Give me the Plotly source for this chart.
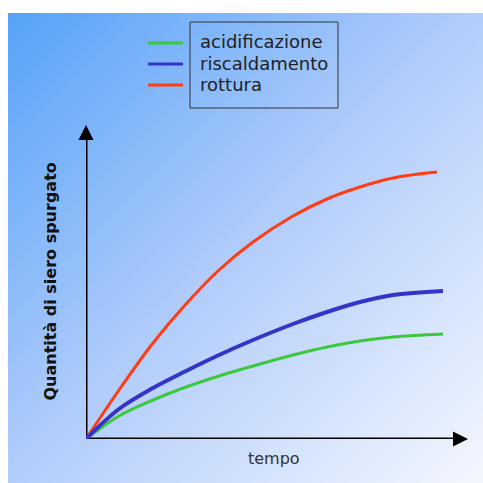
import base64
import plotly.graph_objects as go

# Time axis (arbitrary units) and whey expelled for each treatment
tempo = [0, 33, 67, 100, 133, 167, 207, 241, 274, 307, 351]
tempo_lungo = [0, 33, 67, 100, 133, 167, 207, 241, 274, 307, 357]
rottura = [0, 49, 96, 135, 169, 197, 223, 240, 252, 261, 267]
riscaldamento = [0, 30, 51, 68, 84, 99, 115, 127, 137, 144, 148]
acidificazione = [0, 23, 39, 52, 63, 73, 84, 92, 98, 102, 105]

series_names = ["acidificazione", "riscaldamento", "rottura"]
series_colors = ["#3cc83c", "#3434c8", "#ff3c14"]
series_widths = [3, 4, 3]

X_MAX, Y_MAX = 382, 314
W = H = 483

fig = go.Figure()

# red first, then green, blue on top
fig.add_trace(go.Scatter(x=tempo, y=rottura, mode="lines", name="rottura",
                         line=dict(color=series_colors[2], width=series_widths[2], shape="spline"),
                         showlegend=False))
fig.add_trace(go.Scatter(x=tempo_lungo, y=acidificazione, mode="lines", name="acidificazione",
                         line=dict(color=series_colors[0], width=series_widths[0], shape="spline"),
                         showlegend=False))
fig.add_trace(go.Scatter(x=tempo_lungo, y=riscaldamento, mode="lines", name="riscaldamento",
                         line=dict(color=series_colors[1], width=series_widths[1], shape="spline"),
                         showlegend=False))

# diagonal blue gradient backdrop
svg = (
    '<svg xmlns="http://www.w3.org/2000/svg" width="475" height="470" '
    'preserveAspectRatio="none" viewBox="0 0 475 470">'
    '<defs><linearGradient id="g" x1="0" y1="0" x2="1" y2="1">'
    '<stop offset="0" stop-color="#55a2f8"/>'
    '<stop offset="0.5" stop-color="#b2cdfb"/>'
    '<stop offset="1" stop-color="#f4f7fe"/>'
    '</linearGradient></defs>'
    '<rect width="475" height="470" fill="url(#g)"/></svg>'
)
src = "data:image/svg+xml;base64," + base64.b64encode(svg.encode()).decode()

shapes = [
    # axes (below the curves)
    dict(type="line", xref="x", yref="y", x0=0, y0=0, x1=X_MAX - 8, y1=0,
         line=dict(color="black", width=3), layer="below"),
    dict(type="line", xref="x", yref="y", x0=0, y0=0, x1=0, y1=Y_MAX - 8,
         line=dict(color="black", width=3), layer="below"),
    # legend frame
    dict(type="rect", xref="paper", yref="paper",
         x0=190 / W, x1=338 / W, y0=1 - 108 / H, y1=1 - 22 / H,
         line=dict(color="#333333", width=1), fillcolor="rgba(0,0,0,0)"),
]

annotations = [
    # arrow heads
    dict(x=X_MAX, y=0, xref="x", yref="y", ax=-14, ay=0, text="", showarrow=True,
         arrowhead=2, arrowsize=1, arrowwidth=3, arrowcolor="black"),
    dict(x=0, y=Y_MAX, xref="x", yref="y", ax=0, ay=14, text="", showarrow=True,
         arrowhead=2, arrowsize=1, arrowwidth=3, arrowcolor="black"),
    # axis titles
    dict(x=38 / W, y=1 - 282 / H, xref="paper", yref="paper", text="<b>Quantità di siero spurgato</b>",
         textangle=-90, showarrow=False, font=dict(family="DejaVu Sans", size=16, color="#111111")),
    dict(x=274 / W, y=1 - 470 / H, xref="paper", yref="paper", text="tempo",
         showarrow=False, font=dict(family="DejaVu Sans", size=16, color="#333333")),
]

# custom legend: colour sample outside the frame, label inside
legend_rows = [43, 64, 85]
for name, color, row in zip(series_names, series_colors, legend_rows):
    shapes.append(dict(type="line", xref="paper", yref="paper",
                       x0=148 / W, x1=183 / W, y0=1 - row / H, y1=1 - row / H,
                       line=dict(color=color, width=3)))
    annotations.append(dict(x=198 / W, y=1 - (row - 1) / H, xref="paper", yref="paper",
                            text=name, showarrow=False, xanchor="left", yanchor="middle",
                            font=dict(family="DejaVu Sans", size=18, color="#222222")))

fig.update_layout(
    width=W, height=H,
    margin=dict(l=0, r=0, t=0, b=0),
    paper_bgcolor="white",
    plot_bgcolor="rgba(0,0,0,0)",
    xaxis=dict(range=[0, X_MAX], domain=[86 / W, 468 / W], visible=False, fixedrange=True),
    yaxis=dict(range=[0, Y_MAX], domain=[1 - 439 / H, 1 - 125 / H], visible=False, fixedrange=True),
    images=[dict(source=src, xref="paper", yref="paper", x=8 / W, y=1 - 13 / H,
                 sizex=475 / W, sizey=470 / H, sizing="stretch", layer="below",
                 xanchor="left", yanchor="top")],
    shapes=shapes,
    annotations=annotations,
    showlegend=False,
)

fig.write_html("out.html")
